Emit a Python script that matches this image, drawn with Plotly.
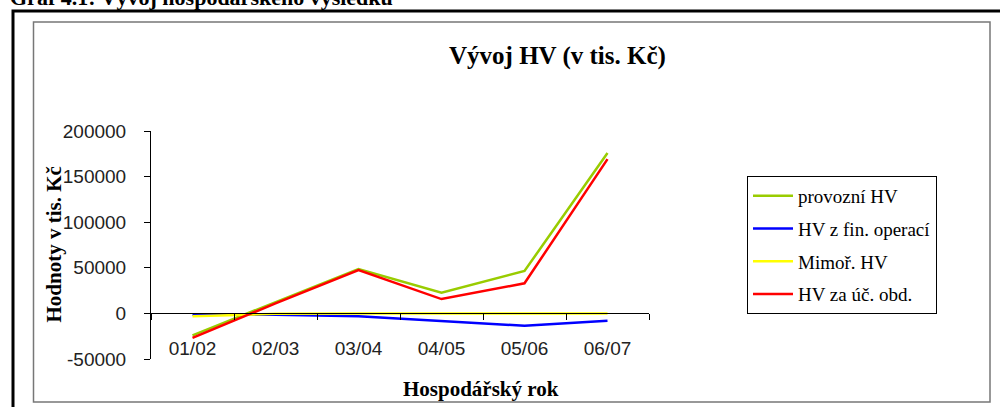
import plotly.graph_objects as go

# ---- data ----
categories = ["01/02", "02/03", "03/04", "04/05", "05/06", "06/07"]
provozni_hv = [-24000, 12000, 48700, 22600, 46500, 175800]
hv_fin_operace = [-1500, -1500, -3000, -8500, -13600, -8000]
mimor_hv = [-3000, -500, 0, 0, 0, 0]
hv_za_ucet_obd = [-26800, 11000, 47600, 15700, 33000, 169200]

series_names = ["provozní HV", "HV z fin. operací", "Mimoř. HV", "HV za úč. obd."]
series_values = [provozni_hv, hv_fin_operace, mimor_hv, hv_za_ucet_obd]
series_colors = ["#99CC00", "#0000FF", "#FFFF00", "#FF0000"]

y_ticks = [-50000, 0, 50000, 100000, 150000, 200000]

# ---- geometry (pixels) ----
W, H = 1000, 407
L, R, T, B = 151, 649, 131, 359
PW, PH = R - L, B - T


def px(x):
    return (x - L) / PW


def py(y):
    return (B - y) / PH


fig = go.Figure()
for i, (name, vals, col) in enumerate(zip(series_names, series_values, series_colors)):
    fig.add_trace(go.Scatter(
        x=categories, y=vals, name=name, mode="lines",
        line=dict(color=col, width=2.5),
        legendgroup=f"g{i}",
    ))

times = "Liberation Serif"
arial = "Liberation Sans"

fig.update_layout(
    template="none",
    width=W, height=H,
    margin=dict(l=L, r=W - R, t=T, b=H - B, pad=0, autoexpand=False),
    plot_bgcolor="white", paper_bgcolor="white",
    showlegend=True,
    legend=dict(
        x=px(747), y=py(176), xanchor="left", yanchor="top",
        bordercolor="black", borderwidth=1,
        font=dict(family=times, size=19, color="black"),
        tracegroupgap=5, bgcolor="white",
        itemwidth=40,
    ),
    xaxis=dict(
        type="category", range=[-0.5, 5.5],
        anchor="free", position=py(313.3),
        showline=True, linecolor="black", linewidth=1,
        ticks="outside", tickson="boundaries", ticklen=6, tickcolor="black",
        tickfont=dict(family=arial, size=19, color="#222"),
        ticklabelstandoff=18,
        showgrid=False, zeroline=False, automargin=False,
    ),
    yaxis=dict(
        range=[-50000, 200000], tickvals=y_ticks,
        ticktext=[str(v) if v >= 0 else "-" + str(-v) for v in y_ticks],
        showline=True, linecolor="black", linewidth=1,
        ticks="outside", ticklen=6, tickcolor="black",
        tickfont=dict(family=arial, size=19, color="#222"),
        ticklabelstandoff=14,
        showgrid=False, zeroline=False, automargin=False,
    ),
)

# frames
fig.add_shape(type="rect", xref="paper", yref="paper",
              x0=px(13), x1=px(1010), y0=py(420), y1=py(11),
              line=dict(color="black", width=3), layer="below")
fig.add_shape(type="rect", xref="paper", yref="paper",
              x0=px(33.5), x1=px(990), y0=py(402), y1=py(22),
              line=dict(color="#777", width=1.5), layer="below")

# texts
fig.add_annotation(text="<b>Graf 4.1: Vývoj hospodářského výsledku</b>",
                   xref="paper", yref="paper", x=px(8), y=py(12),
                   xanchor="left", yanchor="bottom", showarrow=False,
                   font=dict(family=times, size=22, color="black"))
fig.add_annotation(text="<b>Vývoj HV (v tis. Kč)</b>",
                   xref="paper", yref="paper", x=px(557), y=py(56),
                   xanchor="center", yanchor="middle", showarrow=False,
                   font=dict(family=times, size=25, color="black"))
fig.add_annotation(text="<b>Hospodářský rok</b>",
                   xref="paper", yref="paper", x=px(481), y=py(389),
                   xanchor="center", yanchor="middle", showarrow=False,
                   font=dict(family=times, size=21, color="black"))
fig.add_annotation(text="<b>Hodnoty v tis. Kč</b>",
                   xref="paper", yref="paper", x=px(53.5), y=py(245),
                   xanchor="center", yanchor="middle", showarrow=False,
                   textangle=-90,
                   font=dict(family=times, size=21, color="black"))

fig.write_html("out.html",
               config={"displayModeBar": False},
               post_script="document.body.style.margin='0';document.body.style.overflow='hidden';")
